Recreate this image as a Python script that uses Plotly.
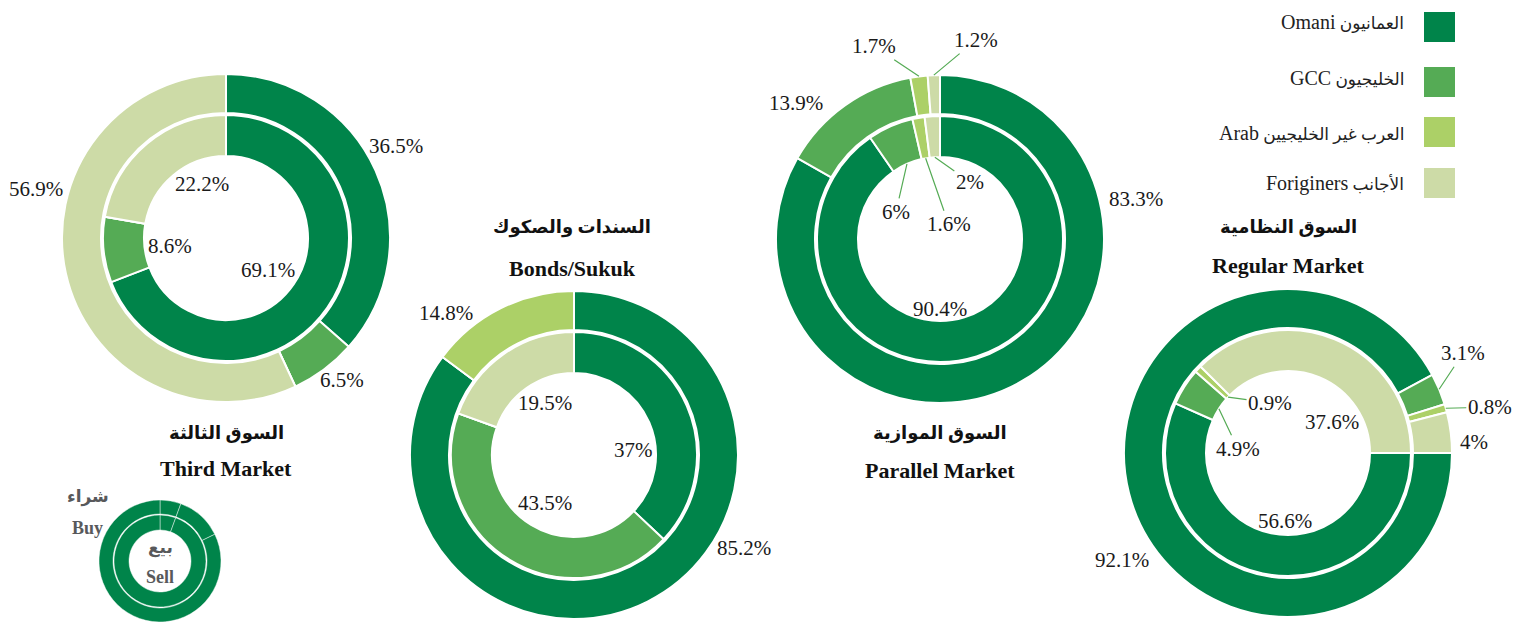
import math
import plotly.graph_objects as go

W, H = 1524, 622

# ---------------- data ----------------
categories_en = ["Omani", "GCC", "Arab", "Foriginers"]
categories_ar = ["العمانيون", "الخليجيون", "العرب غير الخليجيين", "الأجانب"]

markets_en = ["Third Market", "Bonds/Sukuk", "Parallel Market", "Regular Market"]
markets_ar = ["السوق الثالثة", "السندات والصكوك", "السوق الموازية", "السوق النظامية"]

third_buy = [36.5, 6.5, 0, 56.9]
third_sell = [69.1, 8.6, 0, 22.2]
bonds_buy = [85.2, 0, 14.8, 0]
bonds_sell = [37, 43.5, 0, 19.5]
parallel_buy = [83.3, 13.9, 1.7, 1.2]
parallel_sell = [90.4, 6, 1.6, 2]
regular_buy = [92.1, 3.1, 0.8, 4]
regular_sell = [56.6, 4.9, 0.9, 37.6]

key_buy = [20, 44, 296]
key_sell = [20, 340]
key_text = ["شراء", "Buy", "بيع", "Sell"]

# ---------------- style ----------------
colors = ["#00844a", "#55ab55", "#acd067", "#cddba7"]
lead_color = "#55ab55"
FONT = "Liberation Serif, DejaVu Serif, DejaVu Sans, serif"
R_OUT, R_OUT_HOLE, R_IN, R_IN_HOLE = 164, 125, 123, 82

# layout per market: centre, rotation, title position, label placement
# label placement: ("p", dx, dy) plain shift from mid-angle point; ("l", ax, ay) leader line
markets = [
    dict(buy=third_buy, sell=third_sell, c=(226, 238), rot=0, title=(226, 433, 468),
         lab_buy={0: ("p", -3, -14), 1: ("p", 2, -10), 3: ("p", -5, -90)},
         lab_sell={0: ("p", -7, -2), 1: ("p", 4, 2), 3: ("p", 15, -8)}),
    dict(buy=bonds_buy, sell=bonds_sell, c=(574, 455), rot=0, title=(572, 227, 268),
         lab_buy={0: ("p", 85, -77), 2: ("p", -43, 28)},
         lab_sell={0: ("p", 4, 19), 1: ("p", 2, -3), 3: ("p", 6, -3)}),
    dict(buy=parallel_buy, sell=parallel_sell, c=(940, 239), rot=0, title=(940, 433, 470),
         lab_buy={0: ("p", 100, -204), 1: ("p", -34, 19), 2: ("l", -45, -30), 3: ("l", 42, -35)},
         lab_sell={0: ("p", -18, 13), 1: ("l", -11, 48), 2: ("l", 23, 66), 3: ("l", 35, 25)}),
    dict(buy=regular_buy, sell=regular_sell, c=(1288, 453), rot=90, title=(1288, 227, 265),
         lab_buy={0: ("p", 18, 60), 1: ("l", 24, -36), 2: ("l", 44, -1), 3: ("p", -3, 13)},
         lab_sell={0: ("p", 9, 9), 1: ("l", 19, 40), 2: ("l", 42, 6), 3: ("p", 21, 25)}),
]


def dom(cx, cy, r):
    return dict(x=[(cx - r) / W, (cx + r) / W], y=[1 - (cy + r) / H, 1 - (cy - r) / H])


def px(x, y):
    return x / W, 1 - y / H


def mid_angles(vals, rot):
    tot = sum(vals)
    out, cum = [], 0
    for v in vals:
        out.append(rot + 360 * (cum + v / 2) / tot)
        cum += v
    return out


def arc_pt(c, r, a):
    t = math.radians(a)
    return c[0] + r * math.sin(t), c[1] - r * math.cos(t)


fig = go.Figure()
annotations = []
PCT_FONT = dict(family=FONT, size=21, color="#1a1a1a")

for m, en, ar in zip(markets, markets_en, markets_ar):
    c = m["c"]
    fig.add_trace(go.Pie(values=m["buy"], labels=categories_en, sort=False, direction="clockwise",
                         rotation=m["rot"], hole=R_OUT_HOLE / R_OUT, domain=dom(c[0], c[1], R_OUT),
                         marker=dict(colors=colors, line=dict(color="white", width=2)),
                         textinfo="none", showlegend=False, hoverinfo="label+percent"))
    fig.add_trace(go.Pie(values=m["sell"], labels=categories_en, sort=False, direction="clockwise",
                         rotation=m["rot"], hole=R_IN_HOLE / R_IN, domain=dom(c[0], c[1], R_IN),
                         marker=dict(colors=colors, line=dict(color="white", width=2)),
                         textinfo="none", showlegend=False, hoverinfo="label+percent"))
    for ring, vals, labs, r_plain, r_tip in (("buy", m["buy"], m["lab_buy"], 190, R_OUT),
                                               ("sell", m["sell"], m["lab_sell"], 60, R_IN_HOLE)):
        angs = mid_angles(vals, m["rot"])
        for i, spec in labs.items():
            txt = f"{vals[i]:g}%"
            if spec[0] == "p":
                x, y = arc_pt(c, r_plain, angs[i])
                x, y = px(x + spec[1], y + spec[2])
                annotations.append(dict(x=x, y=y, xref="paper", yref="paper", text=txt,
                                        showarrow=False, xanchor="center", yanchor="middle",
                                        font=PCT_FONT))
            else:
                x, y = arc_pt(c, r_tip, angs[i])
                x, y = px(x, y)
                annotations.append(dict(x=x, y=y, xref="paper", yref="paper", text=txt,
                                        showarrow=True, ax=spec[1], ay=spec[2], arrowhead=0,
                                        arrowwidth=1.2, arrowcolor=lead_color, standoff=0,
                                        font=PCT_FONT))
    tx, ty1, ty2 = m["title"]
    for t, ty, fs in ((ar, ty1, 18), (en, ty2, 22)):
        x, y = px(tx, ty)
        annotations.append(dict(x=x, y=y, xref="paper", yref="paper", text=f"<b>{t}</b>",
                                showarrow=False, xanchor="center", yanchor="middle",
                                font=dict(family=FONT, size=fs, color="#111111")))

# key donut (Buy / Sell)
kc, kr = (160, 561), 61
fig.add_trace(go.Pie(values=key_buy, sort=False, direction="clockwise", hole=47 / 61,
                     domain=dom(kc[0], kc[1], kr),
                     marker=dict(colors=[colors[0]] * len(key_buy),
                                 line=dict(color="rgba(255,255,255,0.45)", width=1)),
                     textinfo="none", showlegend=False, hoverinfo="skip"))
fig.add_trace(go.Pie(values=key_sell, sort=False, direction="clockwise", hole=31 / 46,
                     domain=dom(kc[0], kc[1], 46),
                     marker=dict(colors=[colors[0]] * len(key_sell),
                                 line=dict(color="rgba(255,255,255,0.45)", width=1)),
                     textinfo="none", showlegend=False, hoverinfo="skip"))
for t, (x, y), fs in zip(key_text, [(88, 497), (87, 528), (160, 548), (160, 577)], [17, 18, 17, 18]):
    x, y = px(x, y)
    annotations.append(dict(x=x, y=y, xref="paper", yref="paper", text=f"<b>{t}</b>",
                            showarrow=False, xanchor="center", yanchor="middle",
                            font=dict(family=FONT, size=fs, color="#58595b")))

# legend (top right)
shapes = []
leg_box_y = [12, 67, 117, 168]
leg_txt_y = [22, 78, 133, 183]
for en, ar, col, by, ty in zip(categories_en, categories_ar, colors, leg_box_y, leg_txt_y):
    x0, y0 = px(1424, by + 30)
    x1, y1 = px(1455, by)
    shapes.append(dict(type="rect", xref="paper", yref="paper", x0=x0, y0=y0, x1=x1, y1=y1,
                       fillcolor=col, line=dict(width=0)))
    x, y = px(1406, ty)
    annotations.append(dict(x=x, y=y, xref="paper", yref="paper",
                            text=f"<span style='font-size:20px'>{en}</span> {ar}",
                            showarrow=False, xanchor="right", yanchor="middle",
                            font=dict(family=FONT, size=17, color="#222222")))

fig.update_layout(width=W, height=H, margin=dict(l=0, r=0, t=0, b=0),
                  paper_bgcolor="white", plot_bgcolor="white",
                  annotations=annotations, shapes=shapes, showlegend=False)

fig.write_html("out.html", config={"displayModeBar": False},
               post_script="document.body.style.margin='0px';document.body.style.overflow='hidden';")
